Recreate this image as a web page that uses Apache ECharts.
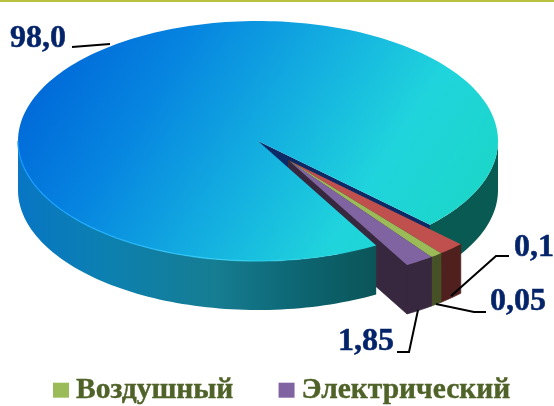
<!DOCTYPE html>
<html><head><meta charset="utf-8">
<style>html,body{margin:0;padding:0;background:#fff;overflow:hidden}#c{width:554px;height:406px}</style>
<script src="https://cdn.jsdelivr.net/npm/echarts@6/dist/echarts.min.js"></script>
</head><body><div id="c"></div>
<script>
// ---- data ----
const sliceNames = ['Прочие', 'Другие', 'Воздушный', 'Электрический'];
const labelTexts = ['98,0', '0,1', '0,05', '1,85'];
// share of the circle each slice really occupies in the drawing (%)
const drawnShares = [95.48, 1.78, 0.8, 1.94];
const legendNames = ['Воздушный', 'Электрический'];

// ---- geometry and style ----
const CX = 258, CY = 141, RX = 240, RY = 120, H = 49;
const START = 60.5, EXPLODE = 0.2, WEDGE_NUDGE_X = 1.5;
const TOTAL = drawnShares.reduce((a, b) => a + b, 0);
const angles = [];
drawnShares.reduce((acc, v) => { const e = acc + v / TOTAL * 360; angles.push([acc, e]); return e; }, START);

const pt = (deg, r, ox, oy, dz) => {
  const a = deg * Math.PI / 180;
  return [CX + ox + RX * r * Math.cos(a), CY + oy + RY * r * Math.sin(a) + (dz || 0)];
};
const arc = (a, b, ox, oy, dz) => {
  const n = Math.max(2, Math.ceil(Math.abs(b - a) / 1.5)), out = [];
  for (let i = 0; i <= n; i++) out.push(pt(a + (b - a) * i / n, 1, ox, oy, dz));
  return out;
};
const poly = (points, fill, seal) => ({
  type: 'polygon', shape: { points }, silent: true,
  style: seal ? { fill, stroke: fill, lineWidth: 0.7 } : { fill, stroke: null }
});
const lin = (x, y, x2, y2, stops) => ({
  type: 'linear', x, y, x2, y2,
  colorStops: stops.map(s => ({ offset: s[0], color: s[1] }))
});
const wallBand = (a, b, fill) => {
  const top = arc(a, b, 0, 0, 0), bot = arc(a, b, 0, 0, H).reverse();
  return poly(top.concat(bot), fill);
};

const mainTopFill = lin(0.1, 0.02, 0.85, 0.98, [[0, '#0068d8'], [0.25, '#0684e0'], [0.55, '#14b0e0'], [0.8, '#20d4dc'], [1, '#1cd6cc']]);
const mainWestFill = lin(0, 0, 1, 0, [[0, '#0876c4'], [0.25, '#0c80b0'], [0.55, '#167d92'], [0.8, '#0c6470'], [1, '#0b5558']]);
const mainEastFill = '#095a52';
const navy = '#0c2a66';
const bevelStroke = lin(0, 0, 1, 0, [[0, 'rgba(20,150,255,0.9)'], [0.55, 'rgba(50,210,250,0.8)'], [0.85, 'rgba(40,220,240,0.25)'], [1, 'rgba(40,220,240,0)']]);

const colors = { 1: ['#c0504d', '#4f201d'], 2: ['#9bbb59', '#465226'], 3: ['#8064a2', '#38283f'] };

function renderMainBack(params, api) {
  const e = api.value(1), eMod = e % 360;
  const rim = pt(eMod, 1, 0, 0, 0);
  return { type: 'group', children: [
    wallBand(0, eMod, mainEastFill),
    poly([[CX, CY], rim, [rim[0], rim[1] + H], [CX, CY + H]], navy)
  ]};
}
function renderMainFront(params, api) {
  const s = api.value(0), e = api.value(1);
  const top = [[CX, CY]].concat(arc(s, e, 0, 0, 0));
  const bevel = arc(s, 180, 0, 0, 0).reverse();
  return { type: 'group', children: [
    wallBand(s, 180, mainWestFill),
    poly(top, mainTopFill),
    { type: 'polyline', shape: { points: bevel }, style: { stroke: bevelStroke, lineWidth: 1.4, fill: null }, silent: true }
  ]};
}
function renderWedge(params, api) {
  const s = api.value(0), e = api.value(1), idx = api.value(2);
  const gapMid = (angles[1][0] + angles[3][1]) / 2;
  const a = gapMid * Math.PI / 180;
  const ox = RX * EXPLODE * Math.cos(a) + WEDGE_NUDGE_X, oy = RY * EXPLODE * Math.sin(a) + 0.5;
  const apex = [CX + ox, CY + oy];
  const rimTop = arc(s, e, ox, oy, 0);
  const rimBot = arc(s, e, ox, oy, H).reverse();
  const last = rimTop[rimTop.length - 1];
  const c = colors[idx];
  return { type: 'group', children: [
    poly([apex, last, [last[0], last[1] + H], [apex[0], apex[1] + H]], c[1], true),
    poly(rimTop.concat(rimBot), c[1], true),
    poly([apex].concat(rimTop), c[0])
  ]};
}

// leader lines and label spots (baseline-left of each text)
const leaders = [
  [[72, 47], [110, 44]],
  [[451, 296], [496, 256], [509, 256]],
  [[436, 304], [474, 312], [486, 312]],
  [[418, 310], [409, 352], [397, 352]]
];
const labelSpots = [[10, 48], [514, 257], [490, 311], [338, 351]];
const graphicElements = [
  { type: 'rect', shape: { x: 0, y: 0, width: 554, height: 2 }, style: { fill: '#b8c23c' }, silent: true }
];
leaders.forEach(p => graphicElements.push({
  type: 'polyline', shape: { points: p }, z: 50, silent: true,
  style: { stroke: '#000', lineWidth: 2, fill: null }
}));
labelTexts.forEach((t, i) => graphicElements.push({
  type: 'text', x: labelSpots[i][0], y: labelSpots[i][1] - 25, z: 50, silent: true,
  style: { text: t, fill: '#04246a', stroke: '#04246a', lineWidth: 0.5, font: 'bold 32px "Liberation Serif"', verticalAlign: 'top', align: 'left' }
}));

const wedgeSeries = [1, 2, 3].map(i => ({
  type: 'custom', name: sliceNames[i], coordinateSystem: 'none', z: 3,
  animation: false, renderItem: renderWedge, clip: false,
  itemStyle: { color: colors[i][0] },
  data: [[angles[i][0], angles[i][1], i]]
}));

const chart = echarts.init(document.getElementById('c'), null, { renderer: 'canvas' });
chart.setOption({
  animation: false,
  legend: {
    data: legendNames, left: 53, top: 375, padding: 0, icon: 'rect', itemWidth: 16, itemHeight: 15, itemGap: 45,
    selectedMode: false,
    textStyle: { fontFamily: 'Liberation Serif', fontWeight: 'bold', fontSize: 29.5, color: '#4f6228', padding: [9, 0, 0, 2], textBorderColor: '#4f6228', textBorderWidth: 0.4 }
  },
  graphic: { elements: graphicElements },
  series: [
    { type: 'custom', name: sliceNames[0], id: 'mainBack', coordinateSystem: 'none', z: 2, animation: false, renderItem: renderMainBack, data: [[angles[0][0], angles[0][1]]], itemStyle: { color: '#12a2e0' } },
    ...wedgeSeries,
    { type: 'custom', name: sliceNames[0], id: 'mainFront', coordinateSystem: 'none', z: 4, animation: false, renderItem: renderMainFront, data: [[angles[0][0], angles[0][1]]], itemStyle: { color: '#12a2e0' } }
  ]
});
</script></body></html>
